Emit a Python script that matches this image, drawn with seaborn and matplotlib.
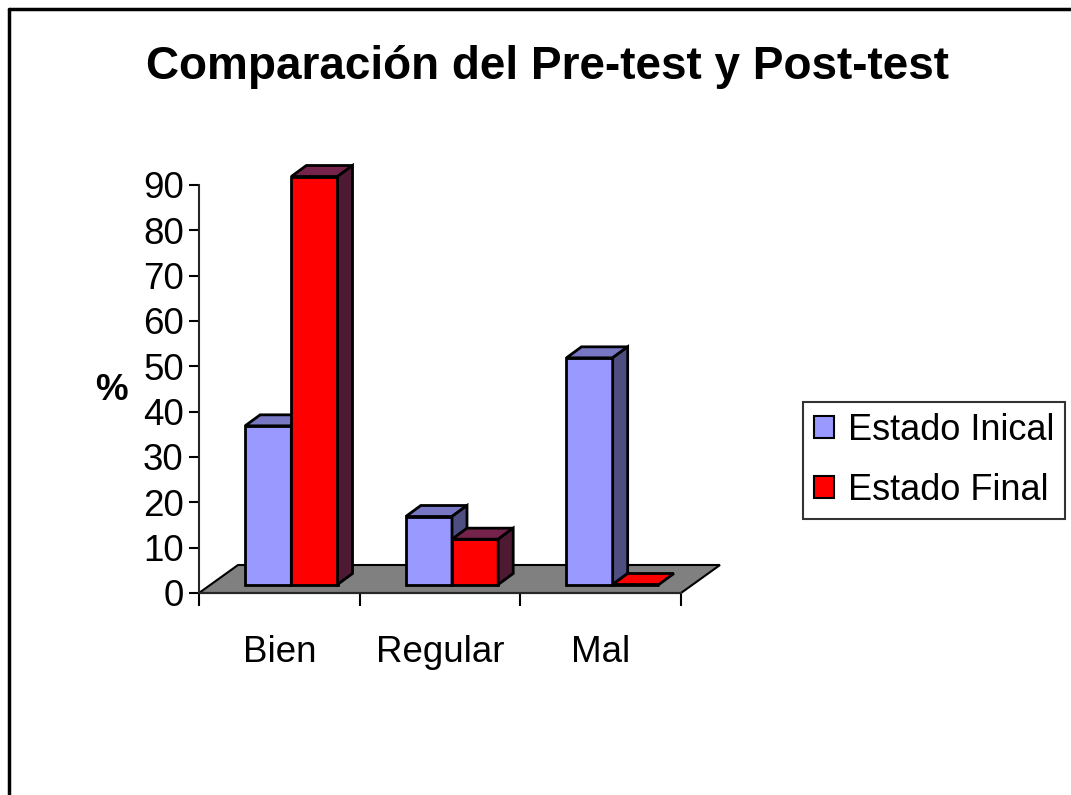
import pandas as pd
import matplotlib.pyplot as plt
import seaborn as sns
from matplotlib.patches import Polygon
from matplotlib.lines import Line2D
from matplotlib.transforms import ScaledTranslation, IdentityTransform

# data
categorias = ["Bien", "Regular", "Mal"]
estados = ["Estado Inical", "Estado Final"]
estado_inicial = [35, 15, 50]
estado_final = [90, 10, 0]
yticks = list(range(0, 100, 10))

df = pd.DataFrame({
    "categoria": categorias * 2,
    "estado": [estados[0]] * 3 + [estados[1]] * 3,
    "valor": estado_inicial + estado_final,
})

front_colors = {estados[0]: "#9999FF", estados[1]: "#FF0000"}
top_colors = {estados[0]: "#7777C4", estados[1]: "#76234C"}
side_colors = {estados[0]: "#4E4E80", estados[1]: "#4E1A33"}

sns.set_style("white")
plt.rcParams["font.family"] = ["Liberation Sans", "DejaVu Sans"]
plt.rcParams.update({"text.color": "black", "axes.labelcolor": "black",
                     "xtick.color": "black", "ytick.color": "black"})

fig = plt.figure(figsize=(10.71, 7.95), dpi=100)
ax = fig.add_axes([199 / 1071, 202 / 795, 482 / 1071, 408 / 795])

sns.barplot(data=df, x="categoria", y="valor", hue="estado", order=categorias,
            hue_order=estados, palette=front_colors, width=0.575,
            edgecolor="black", linewidth=2, saturation=1, ax=ax, zorder=3)

ax.set_xlim(-0.5, 2.5)
ax.set_ylim(0, 90)

# pseudo 3D: front face shifted into the floor, depth of bars
front_dx, front_dy = 12, 8.5      # pixels
depth_dx, depth_dy = 15, 11
floor_dx, floor_dy = 39, 28

shift = ax.transData + ScaledTranslation(front_dx / 100, front_dy / 100, fig.dpi_scale_trans)

fig.canvas.draw()
T = ax.transData

# floor
f0 = T.transform((-0.5, 0))
f1 = T.transform((2.5, 0))
floor = Polygon([f0, f1, (f1[0] + floor_dx, f1[1] + floor_dy), (f0[0] + floor_dx, f0[1] + floor_dy)],
                closed=True, facecolor="#808080", edgecolor="black", linewidth=1.5,
                transform=IdentityTransform(), zorder=1, clip_on=False)
ax.add_patch(floor)

z = 4
for ci in range(len(categorias)):
    for cont, est in zip(ax.containers, estados):
        bar = cont.patches[ci]
        bar.set_transform(shift)
        bar.set_zorder(z)
        bar.set_clip_on(False)
        x0, y0 = bar.get_x(), bar.get_y()
        x1, y1 = x0 + bar.get_width(), y0 + bar.get_height()
        a = T.transform((x0, y1)) + (front_dx, front_dy)
        b = T.transform((x1, y1)) + (front_dx, front_dy)
        c = T.transform((x1, y0)) + (front_dx, front_dy)
        d = (depth_dx, depth_dy)
        flat = bar.get_height() == 0
        top = Polygon([a, b, b + d, a + d], closed=True,
                      facecolor=front_colors[est] if flat else top_colors[est],
                      edgecolor="black", linewidth=2, transform=IdentityTransform(),
                      zorder=z, clip_on=False)
        ax.add_patch(top)
        if not flat:
            side = Polygon([b, b + d, c + d, c], closed=True, facecolor=side_colors[est],
                           edgecolor="black", linewidth=2, transform=IdentityTransform(),
                           zorder=z, clip_on=False)
            ax.add_patch(side)
        z += 1

# axes styling
sns.despine(ax=ax, top=True, right=True)
ax.spines["left"].set_linewidth(1.5)
ax.spines["bottom"].set_linewidth(1.5)
ax.spines["left"].set_zorder(20)
ax.set_yticks(yticks)
ax.tick_params(axis="y", length=7, width=1.5, direction="out", labelsize=26.5, pad=4, left=True)
ax.set_xticks(range(len(categorias)))
ax.set_xticklabels(categorias)
ax.set_xticks([-0.5, 0.5, 1.5, 2.5], minor=True)
ax.tick_params(axis="x", which="major", length=0, labelsize=26.5, pad=30)
ax.tick_params(axis="x", which="minor", length=9, width=1.5, direction="out", bottom=True)
ax.set_xlabel("")
ax.set_ylabel("")
ax.text(-0.181, 0.497, "%", transform=ax.transAxes, ha="center", va="center",
        fontsize=26.5, fontweight="bold")

handles, labels = ax.get_legend_handles_labels()
leg = ax.legend(handles, labels, loc="upper left", bbox_to_anchor=(803 / 1071, 1 - 402 / 795),
                bbox_transform=fig.transFigure, fontsize=26, frameon=True, fancybox=False,
                edgecolor="black", handlelength=0.55, handleheight=0.55, handletextpad=0.4,
                borderpad=0.3, labelspacing=0.7, borderaxespad=0)
leg.get_frame().set_linewidth(1.5)
for h in leg.legend_handles:
    h.set_edgecolor("black")
    h.set_linewidth(1.5)

fig.suptitle("Comparación del Pre-test y Post-test", x=547 / 1071, y=1 - 67 / 795,
             va="center", fontsize=33, fontweight="bold", color="black")

# outer border of the chart area
fig.add_artist(Line2D([9 / 1071, 9 / 1071], [0, 1 - 9 / 795], color="black", linewidth=2.5,
                      transform=fig.transFigure))
fig.add_artist(Line2D([9 / 1071, 1], [1 - 9 / 795, 1 - 9 / 795], color="black", linewidth=2.5,
                      transform=fig.transFigure))

fig.savefig("out.png", dpi=100)
